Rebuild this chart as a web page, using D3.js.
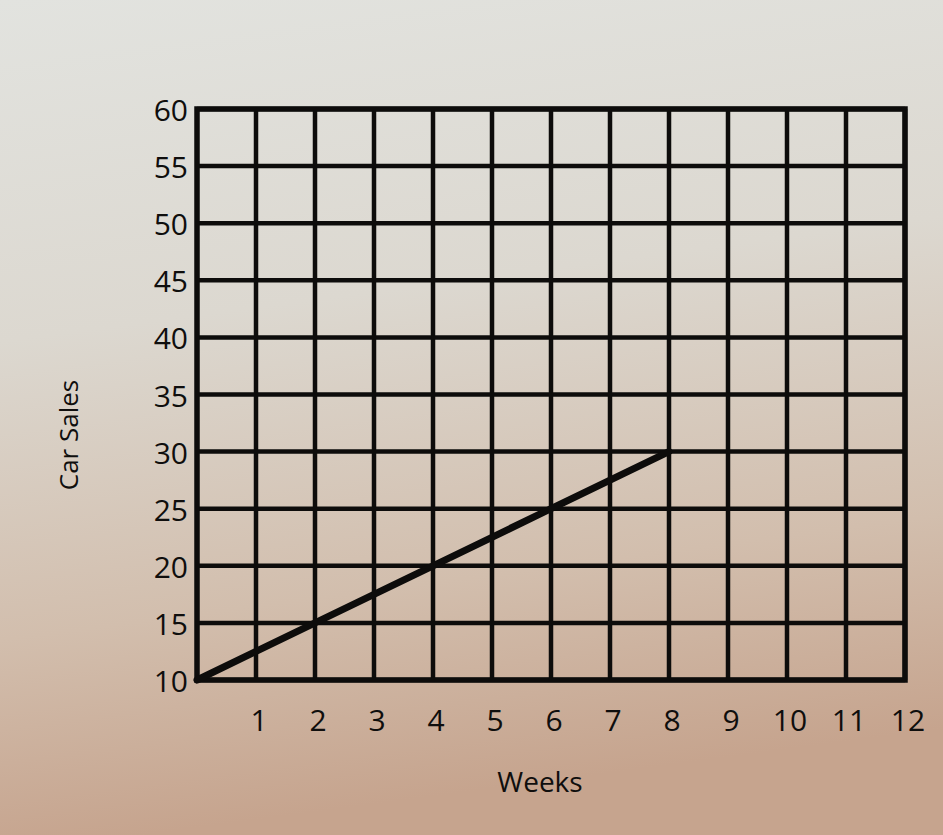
<!DOCTYPE html>
<html>
<head>
    <meta charset="utf-8">
    <title>Car Sales</title>
    <style>
        body {
            margin: 0;
            width: 943px;
            height: 835px;
            overflow: hidden;
        }
        text {
            font-family: 'Open Sans', 'Noto Sans', sans-serif;
            fill: #0f0e0d;
        }
    </style>
    <script src="https://cdnjs.cloudflare.com/ajax/libs/d3/7.8.5/d3.min.js"></script>
</head>
<body>
    <div id="chart"></div>
    <script>
        // data
        const weeks = [0, 2, 4, 6, 8];
        const sales = [10, 15, 20, 25, 30];
        const xTicks = [1, 2, 3, 4, 5, 6, 7, 8, 9, 10, 11, 12];
        const yTicks = [10, 15, 20, 25, 30, 35, 40, 45, 50, 55, 60];

        const width = 943, height = 835;
        const svg = d3.select('#chart')
            .append('svg')
            .attr('width', width)
            .attr('height', height);

        // paper background, light on top and warmer at the bottom
        const grad = svg.append('defs').append('linearGradient')
            .attr('id', 'paper')
            .attr('x1', 0).attr('y1', 0).attr('x2', 0.15).attr('y2', 1);
        grad.append('stop').attr('offset', '0%').attr('stop-color', '#e2e3df');
        grad.append('stop').attr('offset', '40%').attr('stop-color', '#dcd8d0');
        grad.append('stop').attr('offset', '75%').attr('stop-color', '#d2bead');
        grad.append('stop').attr('offset', '100%').attr('stop-color', '#c6a48e');
        svg.append('rect')
            .attr('width', width).attr('height', height)
            .attr('fill', 'url(#paper)');

        const x = d3.scaleLinear().domain([0, 12]).range([197, 905]);
        const y = d3.scaleLinear().domain([10, 60]).range([680, 109]);

        const grid = svg.append('g');

        grid.selectAll('line.v')
            .data(xTicks)
            .join('line')
            .attr('class', 'v')
            .attr('x1', d => x(d)).attr('x2', d => x(d))
            .attr('y1', y(60)).attr('y2', y(10))
            .attr('stroke', '#0d0c0b')
            .attr('stroke-width', 4.5);

        grid.selectAll('line.h')
            .data(yTicks)
            .join('line')
            .attr('class', 'h')
            .attr('x1', x(0)).attr('x2', x(12))
            .attr('y1', d => y(d)).attr('y2', d => y(d))
            .attr('stroke', '#0d0c0b')
            .attr('stroke-width', 4.5);

        grid.append('rect')
            .attr('x', x(0)).attr('y', y(60))
            .attr('width', x(12) - x(0))
            .attr('height', y(10) - y(60))
            .attr('fill', 'none')
            .attr('stroke', '#0d0c0b')
            .attr('stroke-width', 5.5);

        const line = d3.line()
            .x((d, i) => x(weeks[i]))
            .y(d => y(d));

        svg.append('path')
            .datum(sales)
            .attr('d', line)
            .attr('fill', 'none')
            .attr('stroke', '#0d0c0b')
            .attr('stroke-width', 7)
            .attr('stroke-linecap', 'round');

        // tick labels
        svg.selectAll('text.ytick')
            .data(yTicks)
            .join('text')
            .attr('class', 'ytick')
            .attr('x', 188)
            .attr('y', d => y(d) + 12)
            .attr('text-anchor', 'end')
            .style('font-size', '30px')
            .text(d => d);

        svg.selectAll('text.xtick')
            .data(xTicks)
            .join('text')
            .attr('class', 'xtick')
            .attr('x', d => x(d) + 3)
            .attr('y', 731)
            .attr('text-anchor', 'middle')
            .style('font-size', '30px')
            .text(d => d);

        svg.append('text')
            .attr('transform', 'translate(78,435) rotate(-90)')
            .attr('text-anchor', 'middle')
            .style('font-size', '26px')
            .text('Car Sales');

        svg.append('text')
            .attr('x', 540)
            .attr('y', 792)
            .attr('text-anchor', 'middle')
            .style('font-size', '28px')
            .text('Weeks');
    </script>
</body>
</html>
